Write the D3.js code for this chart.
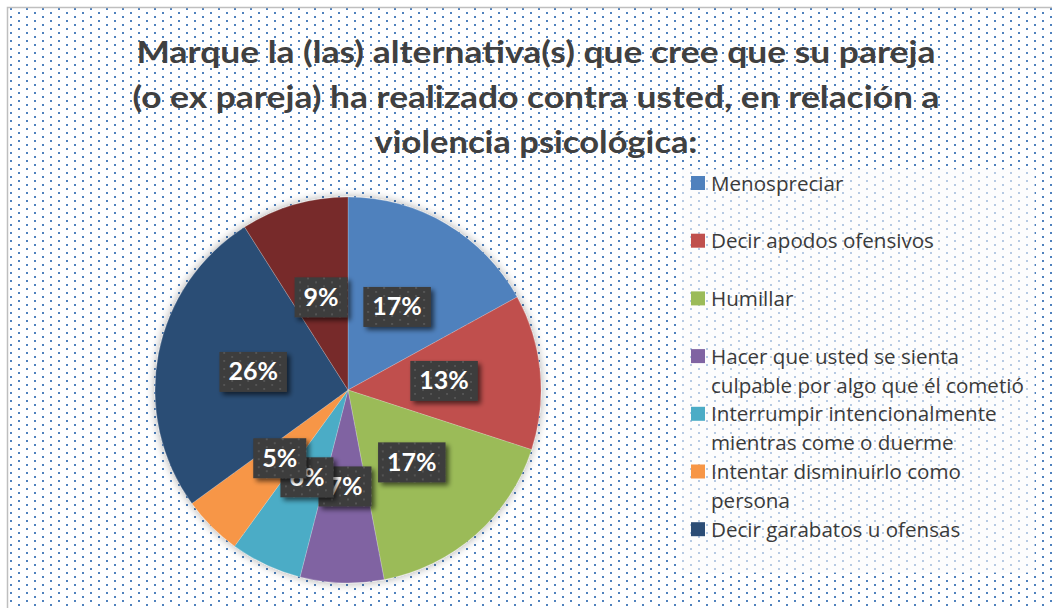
<!DOCTYPE html>
<html>
<head>
<meta charset="utf-8">
<script src="https://cdn.jsdelivr.net/npm/d3@7/dist/d3.min.js"></script>
<style>
  body { margin: 0; background: #fff; }
  svg { display: block; }
</style>
</head>
<body>
<div id="chart"></div>
<script>
// data
var categories = [
    'Menospreciar',
    'Decir apodos ofensivos',
    'Humillar',
    'Hacer que usted se sienta\nculpable por algo que él cometió',
    'Interrumpir intencionalmente\nmientras come o duerme',
    'Intentar disminuirlo como\npersona',
    'Decir garabatos u ofensas',
    'Otros'
];
var values = [17, 13, 17, 7, 6, 5, 26, 9];
var colors = ['#4f81bd', '#c0504d', '#9bbb59', '#8064a2', '#4bacc6', '#f79646', '#2c4d75', '#772c2a'];
var titleLines = [
    'Marque la (las) alternativa(s) que cree que su pareja',
    '(o ex pareja) ha realizado contra usted, en relación a',
    'violencia psicológica:'
];

// layout
var width = 1052;
var height = 608;
var cx = 348, cy = 390, radius = 193;
var titleWidths = [799, 807, 323];
var legend = {x: 682, y: 169, w: 353, h: 404, top: 183, step: 57.7, lineGap: 29};

var svg = d3.select('#chart')
    .append('svg')
        .attr('width', width)
        .attr('height', height);

var defs = svg.append('defs');

// dotted background like the office pattern fill
var dots = defs.append('pattern')
    .attr('id', 'dots')
    .attr('patternUnits', 'userSpaceOnUse')
    .attr('width', 16)
    .attr('height', 8);
dots.append('rect').attr('x', 10).attr('y', 0).attr('width', 2).attr('height', 2).attr('fill', '#4f81bd');
dots.append('rect').attr('x', 2).attr('y', 4).attr('width', 2).attr('height', 2).attr('fill', '#4f81bd');

var darkDots = defs.append('pattern')
    .attr('id', 'darkdots')
    .attr('patternUnits', 'userSpaceOnUse')
    .attr('width', 16)
    .attr('height', 8);
darkDots.append('rect').attr('width', 16).attr('height', 8).attr('fill', '#3c3c3c');
darkDots.append('rect').attr('x', 10).attr('y', 0).attr('width', 2).attr('height', 2).attr('fill', '#555');
darkDots.append('rect').attr('x', 2).attr('y', 4).attr('width', 2).attr('height', 2).attr('fill', '#555');

var glow = defs.append('filter').attr('id', 'glow')
    .attr('x', '-20%').attr('y', '-20%').attr('width', '140%').attr('height', '140%');
glow.append('feGaussianBlur').attr('in', 'SourceAlpha').attr('stdDeviation', 5).attr('result', 'b');
glow.append('feComponentTransfer').attr('in', 'b').attr('result', 'c')
    .append('feFuncA').attr('type', 'linear').attr('slope', 0.35);
var gm = glow.append('feMerge');
gm.append('feMergeNode').attr('in', 'c');
gm.append('feMergeNode').attr('in', 'SourceGraphic');

var shadow = defs.append('filter').attr('id', 'shadow')
    .attr('x', '-30%').attr('y', '-30%').attr('width', '160%').attr('height', '160%');
shadow.append('feGaussianBlur').attr('in', 'SourceAlpha').attr('stdDeviation', 2.5).attr('result', 'b');
shadow.append('feOffset').attr('in', 'b').attr('dx', 3).attr('dy', 3).attr('result', 'o');
shadow.append('feComponentTransfer').attr('in', 'o').attr('result', 'c')
    .append('feFuncA').attr('type', 'linear').attr('slope', 0.6);
var sm = shadow.append('feMerge');
sm.append('feMergeNode').attr('in', 'c');
sm.append('feMergeNode').attr('in', 'SourceGraphic');

defs.append('clipPath').attr('id', 'legendclip')
    .append('rect')
        .attr('x', legend.x).attr('y', legend.y)
        .attr('width', legend.w).attr('height', legend.h);

// chart area
svg.append('rect')
    .attr('x', 7.5)
    .attr('y', 7.5)
    .attr('width', width + 20)
    .attr('height', height + 20)
    .attr('fill', 'url(#dots)')
    .attr('stroke', '#bfbfbf')
    .attr('stroke-width', 1.5);

// title
svg.append('g').selectAll('text')
    .data(titleLines)
    .enter()
    .append('text')
        .attr('x', 536)
        .attr('y', function(d, i) { return 63 + i * 45; })
        .attr('text-anchor', 'middle')
        .attr('textLength', function(d, i) { return titleWidths[i]; })
        .attr('lengthAdjust', 'spacingAndGlyphs')
        .style('font-family', 'Lato, sans-serif')
        .style('font-weight', 'bold')
        .style('font-size', '31px')
        .style('fill', '#404040')
        .text(function(d) { return d; });

// pie
var pie = d3.pie().sort(null).value(function(d) { return d; });
var arcs = pie(values);
var arc = d3.arc().innerRadius(0).outerRadius(radius);
var total = d3.sum(values);
var pct = d3.format('.0%');

var pieG = svg.append('g')
    .attr('transform', 'translate(' + cx + ',' + cy + ')');

pieG.append('g')
    .attr('filter', 'url(#glow)')
    .selectAll('path')
    .data(arcs)
    .enter()
    .append('path')
        .attr('d', arc)
        .attr('fill', function(d, i) { return colors[i]; })
        .attr('stroke', 'rgba(255,255,255,0.35)')
        .attr('stroke-width', 0.6);

// data labels in dark boxes
var labels = pieG.append('g').selectAll('g')
    .data(arcs)
    .enter()
    .append('g')
        .attr('transform', function(d) { return 'translate(' + arc.centroid(d) + ')'; });

labels.append('rect').attr('class', 'box');
labels.append('text')
    .attr('text-anchor', 'middle')
    .attr('y', 8.5)
    .style('font-family', 'Lato, sans-serif')
    .style('font-weight', 'bold')
    .style('font-size', '25px')
    .style('fill', '#fff')
    .text(function(d) { return pct(d.value / total); });

labels.each(function() {
    var g = d3.select(this);
    var w = g.select('text').node().getComputedTextLength() + 18;
    g.select('rect.box')
        .attr('x', -w / 2)
        .attr('y', -20)
        .attr('width', w)
        .attr('height', 40)
        .attr('fill', 'url(#darkdots)')
        .attr('filter', 'url(#shadow)');
});

// legend
var legG = svg.append('g').attr('clip-path', 'url(#legendclip)');

legG.append('rect')
    .attr('x', legend.x).attr('y', legend.y)
    .attr('width', legend.w).attr('height', legend.h)
    .attr('fill', '#fbfbfb')
    .attr('fill-opacity', 0.6);

var items = legG.selectAll('g.item')
    .data(categories)
    .enter()
    .append('g')
        .attr('class', 'item')
        .attr('transform', function(d, i) { return 'translate(' + legend.x + ',' + (legend.top + i * legend.step) + ')'; });

items.append('rect')
    .attr('x', 9)
    .attr('y', -7)
    .attr('width', 14)
    .attr('height', 14)
    .attr('fill', function(d, i) { return colors[i]; });

items.append('text')
    .style('font-family', '"Open Sans", sans-serif')
    .style('font-size', '20.6px')
    .style('fill', '#3a3a3a')
    .selectAll('tspan')
    .data(function(d) { return d.split('\n'); })
    .enter()
    .append('tspan')
        .attr('x', 29)
        .attr('y', function(d, i) { return 7.5 + i * legend.lineGap; })
        .text(function(d) { return d; });
</script>
</body>
</html>
